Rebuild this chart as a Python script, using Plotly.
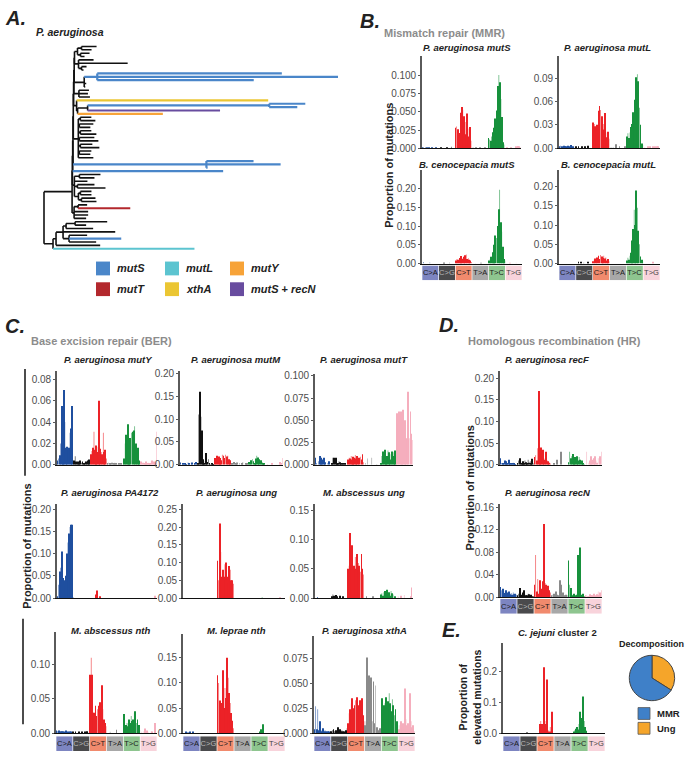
import plotly.graph_objects as go

W, H = 685, 757
FONT = "Liberation Sans, Arial, sans-serif"
NARROW = "Liberation Sans Narrow, Arial Narrow, Liberation Sans, Arial"

# ---------------- mutation-type categories ----------------
TYPES = ["C>A", "C>G", "C>T", "T>A", "T>C", "T>G"]
BAR_COLORS = ["#1f4f9f", "#111111", "#ec2227", "#8a8a8a", "#17913c", "#f5aebd"]
STRIP_COLORS = ["#7d85c1", "#4a4a4c", "#f18a6d", "#a8a8a8", "#8ec58f", "#f8d3db"]
STRIP_TEXT = ["#1a1a1a", "#b8b8b8", "#1a1a1a", "#1a1a1a", "#1a1a1a", "#444444"]
CONTEXT_ALPHA = [1, 0.6, 1, 0.6, 1, 1, 1, 0.6, 1, 1, 0.6, 1, 0.6, 1, 1, 0.6]

# ---------------- spectra (96 trinucleotide contexts, 6 x 16) ----------------
pa_mutS = (
    [0.001, 0.001, 0, 0.001, 0.001, 0, 0.001, 0, 0, 0.001, 0, 0, 0, 0.001, 0, 0]
    + [0, 0, 0.001, 0, 0, 0, 0, 0, 0.001, 0, 0, 0, 0.002, 0, 0, 0]
    + [0.028, 0.030, 0.026, 0.011, 0.021, 0.049, 0.057, 0.053, 0.044, 0.019, 0.036, 0.048, 0.027, 0.016, 0.029, 0.010]
    + [0, 0.001, 0, 0, 0.001, 0, 0, 0, 0.001, 0, 0, 0, 0, 0.001, 0, 0]
    + [0.014, 0.012, 0.010, 0.016, 0.022, 0.028, 0.041, 0.026, 0.052, 0.086, 0.101, 0.091, 0.068, 0.043, 0.008, 0.005]
    + [0, 0, 0.001, 0, 0, 0, 0.001, 0, 0, 0, 0.001, 0.002, 0.002, 0.003, 0.002, 0.001]
)
pa_mutL = (
    [0.002, 0.003, 0.002, 0.001, 0.003, 0.002, 0.002, 0.001, 0.003, 0.002, 0.001, 0.004, 0.002, 0.001, 0, 0.001]
    + [0.001, 0, 0.001, 0, 0, 0.002, 0, 0, 0.001, 0, 0, 0.003, 0, 0, 0, 0]
    + [0.033, 0.031, 0.028, 0.010, 0.030, 0.048, 0.054, 0.049, 0.041, 0.024, 0.031, 0.045, 0.020, 0.014, 0.021, 0.012]
    + [0, 0.001, 0, 0.001, 0, 0, 0.005, 0, 0, 0.001, 0, 0, 0, 0, 0.001, 0]
    + [0.015, 0.019, 0.013, 0.020, 0.027, 0.031, 0.046, 0.040, 0.062, 0.091, 0.095, 0.086, 0.052, 0.030, 0.006, 0.004]
    + [0, 0.001, 0, 0, 0.001, 0, 0.002, 0, 0, 0.001, 0, 0.002, 0, 0.001, 0.001, 0]
)
bc_mutS = (
    [0, 0.004, 0, 0, 0, 0, 0, 0.003, 0, 0, 0, 0, 0, 0, 0, 0]
    + [0, 0, 0, 0, 0, 0.002, 0, 0, 0, 0, 0.002, 0, 0, 0, 0, 0]
    + [0.008, 0.012, 0.010, 0.005, 0.015, 0.020, 0.013, 0.010, 0.018, 0.022, 0.024, 0.012, 0.014, 0.010, 0.008, 0.004]
    + [0, 0, 0, 0.001, 0, 0, 0, 0, 0.002, 0, 0, 0, 0, 0, 0, 0]
    + [0.008, 0.012, 0.018, 0.020, 0.030, 0.050, 0.075, 0.068, 0.100, 0.145, 0.197, 0.110, 0.085, 0.045, 0.012, 0.008]
    + [0, 0, 0, 0, 0.001, 0, 0, 0, 0, 0, 0.002, 0, 0, 0, 0, 0]
)
bc_mutL = (
    [0, 0, 0, 0, 0, 0, 0, 0, 0, 0, 0, 0, 0, 0, 0, 0]
    + [0, 0, 0.002, 0, 0.003, 0, 0, 0.002, 0, 0, 0, 0.002, 0, 0, 0, 0]
    + [0.006, 0.010, 0.013, 0.008, 0.016, 0.020, 0.012, 0.022, 0.018, 0.015, 0.020, 0.013, 0.016, 0.008, 0.012, 0.006]
    + [0, 0, 0, 0, 0, 0, 0, 0, 0, 0, 0, 0, 0, 0, 0, 0]
    + [0.008, 0.015, 0.010, 0.020, 0.028, 0.060, 0.090, 0.140, 0.100, 0.190, 0.145, 0.085, 0.050, 0.018, 0.010, 0.006]
    + [0, 0, 0, 0, 0, 0, 0, 0, 0, 0.002, 0, 0, 0, 0, 0, 0]
)
pa_mutY = (
    [0.004, 0.006, 0.009, 0.020, 0.055, 0.052, 0.070, 0.040, 0.016, 0.017, 0.016, 0.016, 0.030, 0.034, 0.055, 0.004]
    + [0.004, 0.008, 0.003, 0.002, 0.003, 0.002, 0.004, 0.002, 0.003, 0.001, 0.002, 0.003, 0.002, 0.004, 0.005, 0.002]
    + [0.010, 0.013, 0.016, 0.031, 0.014, 0.018, 0.012, 0.017, 0.060, 0.015, 0.012, 0.010, 0.030, 0.012, 0.014, 0.006]
    + [0.001, 0.002, 0.001, 0.001, 0.002, 0, 0.001, 0.002, 0.001, 0, 0.001, 0.001, 0, 0.001, 0, 0.001]
    + [0.006, 0.020, 0.028, 0.024, 0.038, 0.015, 0.025, 0.030, 0.031, 0.032, 0.036, 0.020, 0.012, 0.016, 0.004, 0.003]
    + [0.003, 0.001, 0.002, 0.001, 0.001, 0.003, 0.001, 0.002, 0.001, 0.001, 0.003, 0.004, 0.002, 0.003, 0.002, 0.031]
)
pa_mutM = (
    [0.005, 0, 0.002, 0, 0.004, 0.001, 0, 0.005, 0.002, 0, 0.003, 0.005, 0, 0.002, 0.006, 0.001]
    + [0.003, 0.110, 0.160, 0.105, 0.075, 0.012, 0.004, 0.008, 0.026, 0.006, 0.012, 0.003, 0.002, 0.004, 0.001, 0.002]
    + [0.015, 0.012, 0.020, 0.008, 0.018, 0.015, 0.010, 0.022, 0.020, 0.015, 0.022, 0.018, 0.020, 0.012, 0.010, 0.004]
    + [0.004, 0, 0.006, 0, 0.003, 0.005, 0, 0.004, 0, 0.002, 0.006, 0, 0, 0.002, 0.004, 0]
    + [0.006, 0.004, 0.010, 0.012, 0.008, 0.004, 0.014, 0.020, 0.016, 0.012, 0.008, 0.010, 0.006, 0.004, 0.002, 0]
    + [0, 0.002, 0, 0, 0, 0.004, 0, 0, 0, 0, 0, 0, 0.002, 0.006, 0.004, 0.015]
)
pa_mutT = (
    [0.008, 0.002, 0, 0.004, 0.010, 0.008, 0.006, 0.003, 0.008, 0.003, 0, 0, 0.002, 0.004, 0, 0]
    + [0.002, 0.008, 0.008, 0.002, 0.008, 0.002, 0.001, 0.004, 0.003, 0.002, 0.001, 0.002, 0, 0.001, 0, 0]
    + [0.006, 0.008, 0.007, 0.010, 0.006, 0.009, 0.008, 0.011, 0.007, 0.010, 0.006, 0.008, 0.009, 0.006, 0.012, 0.003]
    + [0, 0.002, 0, 0.007, 0, 0, 0, 0.008, 0, 0, 0, 0, 0.001, 0, 0, 0]
    + [0.002, 0.010, 0.015, 0.012, 0.017, 0.008, 0.010, 0.016, 0.014, 0.006, 0.012, 0.015, 0.014, 0.010, 0.016, 0.005]
    + [0.058, 0.045, 0.060, 0.052, 0.060, 0.055, 0.062, 0.040, 0.050, 0.030, 0.045, 0.082, 0.030, 0.060, 0.035, 0.028]
)
pa_recF = (
    [0.015, 0.004, 0.003, 0.002, 0.010, 0.008, 0.004, 0.002, 0.012, 0.004, 0.003, 0.002, 0.005, 0.002, 0.001, 0.001]
    + [0.004, 0.010, 0.015, 0.006, 0.003, 0.008, 0.002, 0.010, 0.006, 0.003, 0.012, 0.005, 0.008, 0.002, 0.014, 0.003]
    + [0.018, 0.022, 0.010, 0.038, 0.170, 0.012, 0.040, 0.020, 0.035, 0.012, 0.015, 0.030, 0.010, 0.008, 0.005, 0.003]
    + [0, 0, 0.003, 0, 0, 0.012, 0, 0, 0, 0.030, 0, 0, 0, 0, 0, 0]
    + [0.006, 0.030, 0.015, 0.020, 0.025, 0.015, 0.018, 0.012, 0.020, 0.010, 0.018, 0.012, 0.008, 0.010, 0.004, 0.002]
    + [0, 0.030, 0, 0.005, 0.010, 0.020, 0.012, 0.008, 0.015, 0.020, 0.010, 0.005, 0.015, 0, 0.020, 0.030]
)
pa_PA4172 = (
    [0.002, 0.030, 0.060, 0.068, 0.105, 0.045, 0.040, 0.027, 0.050, 0.100, 0.125, 0.145, 0.160, 0.165, 0.165, 0.002]
    + [0] * 16
    + [0, 0, 0, 0, 0, 0.008, 0.017, 0, 0, 0.002, 0, 0, 0, 0, 0, 0]
    + [0] * 16
    + [0] * 16
    + [0, 0, 0, 0, 0, 0, 0, 0, 0, 0, 0, 0, 0, 0, 0.005, 0]
)
pa_ung = (
    [0] * 16
    + [0] * 16
    + [0.105, 0.050, 0.210, 0.130, 0.060, 0.080, 0.060, 0.095, 0.100, 0.060, 0.040, 0.090, 0.080, 0.050, 0.050, 0.040]
    + [0] * 16
    + [0, 0, 0, 0, 0, 0, 0, 0, 0, 0, 0.002, 0, 0, 0, 0, 0]
    + [0, 0, 0, 0, 0, 0, 0, 0, 0, 0, 0, 0.002, 0, 0, 0, 0]
)
ma_ung = (
    [0, 0, 0.001, 0, 0, 0, 0, 0, 0, 0, 0, 0, 0, 0, 0, 0]
    + [0.002, 0.006, 0.004, 0.002, 0.005, 0.003, 0, 0, 0.004, 0, 0, 0.002, 0, 0, 0, 0]
    + [0.050, 0.055, 0.111, 0.080, 0.090, 0.050, 0.055, 0.070, 0.050, 0.075, 0.060, 0.055, 0.045, 0.075, 0.050, 0.040]
    + [0, 0, 0.002, 0, 0, 0, 0, 0, 0.003, 0, 0, 0, 0, 0, 0, 0]
    + [0.006, 0.008, 0.004, 0.010, 0.012, 0.006, 0.014, 0.008, 0.010, 0.004, 0.012, 0.008, 0.006, 0, 0.002, 0]
    + [0, 0.003, 0, 0, 0.004, 0, 0, 0.005, 0, 0, 0, 0, 0, 0.003, 0.018, 0]
)
pa_recN = (
    [0.018, 0.012, 0.015, 0.010, 0.007, 0.012, 0.008, 0.006, 0.010, 0.005, 0.007, 0.004, 0.008, 0.005, 0.006, 0.004]
    + [0.002, 0.006, 0.016, 0.003, 0.004, 0.008, 0.012, 0.004, 0.002, 0.003, 0.006, 0.005, 0.002, 0.004, 0.001, 0.002]
    + [0.022, 0.075, 0.010, 0.032, 0.006, 0.030, 0.015, 0.010, 0.028, 0.130, 0.025, 0.022, 0.018, 0.020, 0.012, 0.008]
    + [0.002, 0.004, 0.006, 0.003, 0.010, 0.004, 0.003, 0.002, 0.030, 0.022, 0.005, 0.008, 0.003, 0.002, 0.004, 0.003]
    + [0.065, 0.022, 0.016, 0.005, 0.003, 0.006, 0.003, 0.002, 0.004, 0.075, 0.006, 0.088, 0.003, 0.004, 0.006, 0.002]
    + [0.002, 0.003, 0.001, 0.002, 0.005, 0.003, 0.002, 0.004, 0.006, 0.003, 0.002, 0.005, 0.010, 0.004, 0.008, 0.012]
)
ma_nth = (
    [0.004, 0.003, 0.004, 0.002, 0.003, 0.002, 0.003, 0.001, 0.002, 0.004, 0.002, 0.001, 0.003, 0.002, 0.001, 0.002]
    + [0.001, 0, 0.002, 0, 0, 0.001, 0, 0, 0.002, 0, 0, 0.001, 0.002, 0.003, 0, 0.001]
    + [0.085, 0.110, 0.085, 0.030, 0.030, 0.040, 0.025, 0.035, 0.040, 0.045, 0.030, 0.070, 0.035, 0.020, 0.015, 0.010]
    + [0, 0, 0, 0.002, 0, 0, 0, 0, 0, 0.005, 0, 0, 0, 0, 0, 0]
    + [0.028, 0.008, 0.012, 0.015, 0.010, 0.020, 0.015, 0.025, 0.018, 0.020, 0.030, 0.032, 0.015, 0.020, 0.012, 0.005]
    + [0, 0.002, 0, 0.003, 0.007, 0, 0.004, 0.002, 0, 0, 0.003, 0.002, 0, 0, 0.015, 0]
)
ml_nth = (
    [0, 0, 0.002, 0, 0.001, 0, 0.003, 0, 0, 0.002, 0, 0, 0, 0, 0, 0]
    + [0] * 16
    + [0.115, 0.100, 0.065, 0.045, 0.060, 0.125, 0.050, 0.090, 0.070, 0.150, 0.110, 0.080, 0.060, 0.040, 0.025, 0.010]
    + [0] * 16
    + [0, 0, 0, 0, 0, 0, 0, 0, 0.002, 0.008, 0.004, 0.018, 0, 0, 0, 0]
    + [0] * 16
)
pa_xthA = (
    [0.004, 0.027, 0.004, 0.024, 0.003, 0.012, 0.002, 0.003, 0.005, 0.002, 0.003, 0.002, 0.001, 0.002, 0.001, 0.002]
    + [0.002, 0.003, 0.004, 0.002, 0.003, 0.002, 0.006, 0.003, 0.004, 0.002, 0.003, 0.002, 0.002, 0.001, 0.003, 0.005]
    + [0.010, 0.020, 0.024, 0.030, 0.035, 0.025, 0.028, 0.033, 0.036, 0.028, 0.020, 0.033, 0.025, 0.035, 0.018, 0.012]
    + [0.008, 0.012, 0.076, 0.010, 0.058, 0.020, 0.056, 0.012, 0.052, 0.010, 0.048, 0.006, 0.004, 0.003, 0.005, 0.002]
    + [0.035, 0.020, 0.028, 0.030, 0.036, 0.025, 0.032, 0.040, 0.030, 0.022, 0.034, 0.028, 0.018, 0.024, 0.012, 0.008]
    + [0.004, 0.008, 0.012, 0.006, 0.010, 0.004, 0.045, 0.014, 0.008, 0.010, 0.006, 0.040, 0.012, 0.006, 0.008, 0.002]
)
cj_cluster2 = (
    [0] * 16
    + [0, 0, 0, 0, 0, 0, 0.002, 0, 0, 0, 0, 0, 0, 0, 0, 0]
    + [0, 0, 0.030, 0.040, 0.030, 0.012, 0.215, 0.040, 0.030, 0.175, 0.010, 0.005, 0.020, 0.005, 0.070, 0]
    + [0] * 16
    + [0, 0, 0.005, 0.010, 0.015, 0.020, 0.012, 0.030, 0.070, 0.050, 0.025, 0.120, 0.040, 0.020, 0.008, 0]
    + [0] * 16
)

# ---------------- decomposition pie ----------------
PIE_LABELS = ["Ung", "MMR"]
PIE_VALUES = [34, 66]
PIE_COLORS = ["#f5a52a", "#3f80c8"]

# ---------------- phylogeny (Newick, leaf names = mutator gene) ----------------
G1 = "((k:15,k:10):4,(k:9,k:4):3)"
G2 = "(k:15,k:49,(k:5,k:2):3)"
G3 = "((S:184,S:240,S:156):13,k:2,k:1)"
G4 = "(k:10,k:9,k:11)"
G5 = "(X:191,(((S:36,S:28):181,P:132):10,Y:85):1)"
G8 = "((k:11,k:15):2,(k:14,k:11):1,(k:11,k:16):2,(k:15,k:19):1,(k:12,k:19):2,(k:12,k:11):1,k:15)"
G9 = "(S:47,S:74,S:1)"
G10a = "((k:21,k:15):5,k:13,(k:17,k:28):3,((k:11,k:11):2,(k:14,k:15):3):4)"
G10b = "((k:9,T:52):4,k:14,k:14,k:12)"
BOTTOM = "((((((k:32,k:11):9,k:27):3,k:52,(k:18,S:52,k:27):6):7,k:44):3,L:141):9)"
MAIN = ("((((((((((" + G1 + ":3," + G2 + ":4):0.3," + G3 + ":10):0.3," + G4 + ":5):0.3,"
        + G5 + ":3):0.3," + G8 + ":5):0.3," + G9 + ":133):0.3,S:150):0.3," + G10a + ":2):0.3,"
        + G10b + ":2):28)")
TREE_NEWICK = "(" + MAIN + "," + BOTTOM + ");"

GENE_KEYS = ["k", "S", "L", "Y", "T", "X", "P"]
GENE_COLORS = ["#111111", "#4a86c9", "#5cc4d0", "#f7a338", "#b3282d", "#ebc633", "#684c9f"]
LEGEND_KEYS = ["S", "L", "Y", "T", "X", "P"]
LEGEND_LABELS = ["<i>mutS</i>", "<i>mutL</i>", "<i>mutY</i>", "<i>mutT</i>", "<i>xthA</i>",
                 "<i>mutS</i> + <i>recN</i>"]


# ================= helpers =================
def px(x):
    return x / W


def py(y):
    return 1 - y / H


def rgba(hexc, a):
    h = hexc.lstrip("#")
    r, g, b = int(h[0:2], 16), int(h[2:4], 16), int(h[4:6], 16)
    return f"rgba({r},{g},{b},{a})"


fig = go.Figure()
layout = {}
annotations = []
shapes = []
counter = [0]


def add_axes(x0, x1, yt, yb, xa, ya):
    counter[0] += 1
    n = counter[0]
    s = "" if n == 1 else str(n)
    layout["xaxis" + s] = dict(domain=[px(x0), px(x1)], anchor="y" + s, fixedrange=True, **xa)
    layout["yaxis" + s] = dict(domain=[py(yb), py(yt)], anchor="x" + s, fixedrange=True, **ya)
    return "x" + s, "y" + s


def text(x, y, t, size=10, color="#222222", xanchor="center", angle=0, family=FONT):
    annotations.append(dict(x=px(x), y=py(y), xref="paper", yref="paper", text=t, showarrow=False,
                            xanchor=xanchor, yanchor="middle", textangle=angle,
                            font=dict(size=size, color=color, family=family)))


HIDDEN = dict(visible=False, showgrid=False, zeroline=False)

# ================= panel A: tree =================
def parse_newick(s):
    pos = [0]

    def node():
        children = []
        if s[pos[0]] == "(":
            pos[0] += 1
            while True:
                children.append(node())
                c = s[pos[0]]
                pos[0] += 1
                if c == ")":
                    break
        st = pos[0]
        while s[pos[0]] not in ":,();":
            pos[0] += 1
        name = s[st:pos[0]]
        length = 0.0
        if s[pos[0]] == ":":
            pos[0] += 1
            st = pos[0]
            while s[pos[0]] not in ",();":
                pos[0] += 1
            length = float(s[st:pos[0]])
        return {"name": name, "len": length, "ch": children}

    return node()


tree = parse_newick(TREE_NEWICK)
leaf_count = [0]


def layout_tree(nd, x0):
    nd["x"] = x0 + nd["len"]
    if not nd["ch"]:
        nd["y"] = leaf_count[0]
        leaf_count[0] += 1
        nd["col"] = nd["name"]
    else:
        for c in nd["ch"]:
            layout_tree(c, nd["x"])
        nd["y"] = sum(c["y"] for c in nd["ch"]) / len(nd["ch"])
        cols = {c["col"] for c in nd["ch"]}
        nd["col"] = cols.pop() if len(cols) == 1 else "k"


tree["len"] = 0.0
layout_tree(tree, 0.0)
segs = {k: ([], []) for k in GENE_KEYS}


def collect(nd, parent_x):
    xs, ys = segs[nd["col"]]
    if parent_x is not None:
        xs += [parent_x, nd["x"], None]
        ys += [nd["y"], nd["y"], None]
    if nd["ch"]:
        cy = [c["y"] for c in nd["ch"]]
        xs += [nd["x"], nd["x"], None]
        ys += [min(cy), max(cy), None]
        for c in nd["ch"]:
            collect(c, nd["x"])


collect(tree, None)
xmax = max(max(v for v in segs[k][0] if v is not None) for k in GENE_KEYS if segs[k][0])
nleaf = leaf_count[0]
padx = 4 * xmax / 294.0
pady = 5 * (nleaf - 1) / 205.0
tx, ty = add_axes(40, 342, 38, 253, dict(range=[-padx, xmax + padx], **HIDDEN),
                  dict(range=[nleaf - 1 + pady, -pady], **HIDDEN))
for k, c in zip(GENE_KEYS, GENE_COLORS):
    xs, ys = segs[k]
    if xs:
        fig.add_trace(go.Scatter(x=xs, y=ys, mode="lines", xaxis=tx, yaxis=ty, hoverinfo="skip",
                                 line=dict(color=c, width=1.6 if k == "k" else 2.2), showlegend=False))

text(3, 14, "<b><i>A.</i></b>", size=20, xanchor="left")
text(34, 28, "<b><i>P. aeruginosa</i></b>", size=10.5, xanchor="left")
leg_cols = [96, 165, 230]
leg_rows = [268, 289]
for i, (k, lab) in enumerate(zip(LEGEND_KEYS, LEGEND_LABELS)):
    cx = leg_cols[i % 3]
    cy = leg_rows[i // 3]
    shapes.append(dict(type="rect", xref="paper", yref="paper", x0=px(cx), x1=px(cx + 14),
                       y0=py(cy + 7), y1=py(cy - 7), fillcolor=GENE_COLORS[GENE_KEYS.index(k)],
                       line=dict(width=0)))
    text(cx + 19, cy, "<b>" + lab + "</b>", size=11, xanchor="left")

# ================= spectra panels =================
bar_colors = [rgba(BAR_COLORS[i // 16], CONTEXT_ALPHA[i % 16]) for i in range(96)]


def spectrum(vals, box, ymax, ticks, fmt, title, title_pos, strip_box=None):
    x0, x1, yt, yb = box
    xa = dict(range=[-0.5, 95.5], showgrid=False, zeroline=False, showticklabels=False, ticks="",
              showline=True, linecolor="#111111", linewidth=1)
    ya = dict(range=[0, ymax], tickvals=ticks, ticktext=[fmt.format(t) for t in ticks], showgrid=False,
              zeroline=False, showline=True, linecolor="#5a5a5a", linewidth=1.6, ticks="outside",
              ticklen=2, tickcolor="#5a5a5a", tickfont=dict(size=10, color="#4d4d4d", family=FONT))
    xr, yr = add_axes(x0, x1, yt, yb, xa, ya)
    fig.add_trace(go.Bar(x=list(range(96)), y=vals, width=0.85, marker=dict(color=bar_colors, line=dict(width=0)),
                         xaxis=xr, yaxis=yr, hoverinfo="skip", showlegend=False))
    text(title_pos[0], title_pos[1], "<b>" + title + "</b>", size=9.5)
    if strip_box:
        sx, sy = add_axes(x0, x1, strip_box[0], strip_box[1], dict(range=[-0.5, 5.5], **HIDDEN),
                          dict(range=[0, 1], **HIDDEN))
        fig.add_trace(go.Bar(x=list(range(6)), y=[1] * 6, width=0.96, marker=dict(color=STRIP_COLORS, line=dict(width=0)),
                             text=TYPES, textposition="inside", insidetextanchor="middle", constraintext="none",
                             textangle=0, textfont=dict(color=STRIP_TEXT, size=7.5, family=NARROW),
                             xaxis=sx, yaxis=sy, hoverinfo="skip", showlegend=False))


T5 = [0, 0.025, 0.05, 0.075, 0.1]
T20 = [0, 0.05, 0.1, 0.15, 0.2]

# --- B ---
text(358, 17, "<b><i>B.</i></b>", size=20, xanchor="left")
text(382, 29, "<b>Mismatch repair (MMR)</b>", size=11, color="#8c8c8c", xanchor="left")
spectrum(pa_mutS, (422, 521, 53, 146), 0.127, T5, "{:.3f}", "<i>P. aeruginosa mutS</i>", (467, 44))
spectrum(pa_mutL, (559, 660, 53, 146), 0.118, [0, 0.03, 0.06, 0.09], "{:.2f}", "<i>P. aeruginosa mutL</i>", (607, 44))
spectrum(bc_mutS, (422, 522, 168, 263), 0.25, T20, "{:.2f}", "<i>B. cenocepacia mutS</i>", (467, 163), (265, 280))
spectrum(bc_mutL, (559, 660, 168, 263), 0.244, T20, "{:.2f}", "<i>B. cenocepacia mutL</i>", (608, 163), (265, 280))
text(389, 164, "<b>Proportion of mutations</b>", size=11, angle=-90)

# --- C ---
text(3, 326, "<b><i>C.</i></b>", size=20, xanchor="left")
text(29, 342, "<b>Base excision repair (BER)</b>", size=11, color="#8c8c8c", xanchor="left")
spectrum(pa_mutY, (57, 157, 372, 467), 0.0876, [0, 0.02, 0.04, 0.06, 0.08], "{:.2f}", "<i>P. aeruginosa mutY</i>", (108, 360))
spectrum(pa_mutM, (180, 283, 372, 467), 0.205, T20, "{:.2f}", "<i>P. aeruginosa mutM</i>", (236, 360))
spectrum(pa_mutT, (315, 413, 375, 467), 0.102, T5, "{:.3f}", "<i>P. aeruginosa mutT</i>", (364, 360))
spectrum(pa_PA4172, (57, 157, 507, 602), 0.211, T20, "{:.2f}", "<i>P. aeruginosa PA4172</i>", (110, 495))
spectrum(pa_ung, (183, 285, 507, 602), 0.264, T20 + [0.25], "{:.2f}", "<i>P. aeruginosa ung</i>", (236, 495))
spectrum(ma_ung, (315, 413, 507, 602), 0.16, [0, 0.05, 0.1, 0.15], "{:.2f}", "<i>M. abscessus ung</i>", (364, 495))
spectrum(ma_nth, (56, 157, 636, 739), 0.148, [0, 0.05, 0.1], "{:.2f}", "<i>M. abscessus nth</i>", (110, 635), (742, 757))
spectrum(ml_nth, (183, 285, 638, 739), 0.198, [0, 0.05, 0.1, 0.15], "{:.2f}", "<i>M. leprae nth</i>", (236, 635), (742, 757))
spectrum(pa_xthA, (314, 415, 640, 739), 0.098, [0, 0.025, 0.05, 0.075], "{:.3f}", "<i>P. aeruginosa xthA</i>", (364, 635), (742, 757))
text(27, 550, "<b>Proportion of mutations</b>", size=11, angle=-90)
shapes.append(dict(type="line", xref="paper", yref="paper", x0=px(25), x1=px(25), y0=py(370), y1=py(478),
                   line=dict(color="#111111", width=1.5)))
shapes.append(dict(type="line", xref="paper", yref="paper", x0=px(23), x1=px(23), y0=py(623), y1=py(730),
                   line=dict(color="#111111", width=1.5)))

# --- D ---
text(437, 325, "<b><i>D.</i></b>", size=20, xanchor="left")
text(466, 342, "<b>Homologous recombination (HR)</b>", size=11, color="#8c8c8c", xanchor="left")
spectrum(pa_recF, (500, 602, 372, 467), 0.216, T20, "{:.2f}", "<i>P. aeruginosa recF</i>", (547, 360))
spectrum(pa_recN, (500, 602, 507, 601), 0.165, [0, 0.04, 0.08, 0.12, 0.16], "{:.2f}", "<i>P. aeruginosa recN</i>", (548, 495), (603, 618))
text(470, 491, "<b>Proportion of mutations</b>", size=11, angle=-90)

# --- E ---
text(440, 634, "<b><i>E.</i></b>", size=20, xanchor="left")
spectrum(cj_cluster2, (503, 605, 648, 739), 0.293, [0, 0.1, 0.2], "{:.1f}", "<i>C. jejuni</i> cluster 2", (557, 637), (742, 757))
text(470, 703, "<b>Proportion of<br>elevated mutations</b>", size=10.5, angle=-90)

fig.add_trace(go.Pie(labels=PIE_LABELS, values=PIE_VALUES, sort=False, direction="clockwise", rotation=0,
                     marker=dict(colors=PIE_COLORS, line=dict(color="#444444", width=1)), textinfo="none",
                     hoverinfo="skip", showlegend=False,
                     domain=dict(x=[px(629), px(675)], y=[py(706), py(660)])))
text(651, 649, "<b>Decomposition</b>", size=9)
for i, (lab, col) in enumerate(zip(["MMR", "Ung"], ["#3f80c8", "#f5a52a"])):
    cy = 719 + 15 * i
    shapes.append(dict(type="rect", xref="paper", yref="paper", x0=px(638), x1=px(650), y0=py(cy + 6), y1=py(cy - 6),
                       fillcolor=col, line=dict(color="#555555", width=0.8)))
    text(655, cy, "<b>" + lab + "</b>", size=9.5, xanchor="left")

fig.update_layout(width=W, height=H, margin=dict(l=0, r=0, t=0, b=0), paper_bgcolor="white",
                  plot_bgcolor="white", font=dict(family=FONT, color="#222222"), showlegend=False,
                  annotations=annotations, shapes=shapes, **layout)
fig.write_html("out.html", config={"displayModeBar": False},
               post_script="document.body.style.margin='0';document.body.style.overflow='hidden';")
